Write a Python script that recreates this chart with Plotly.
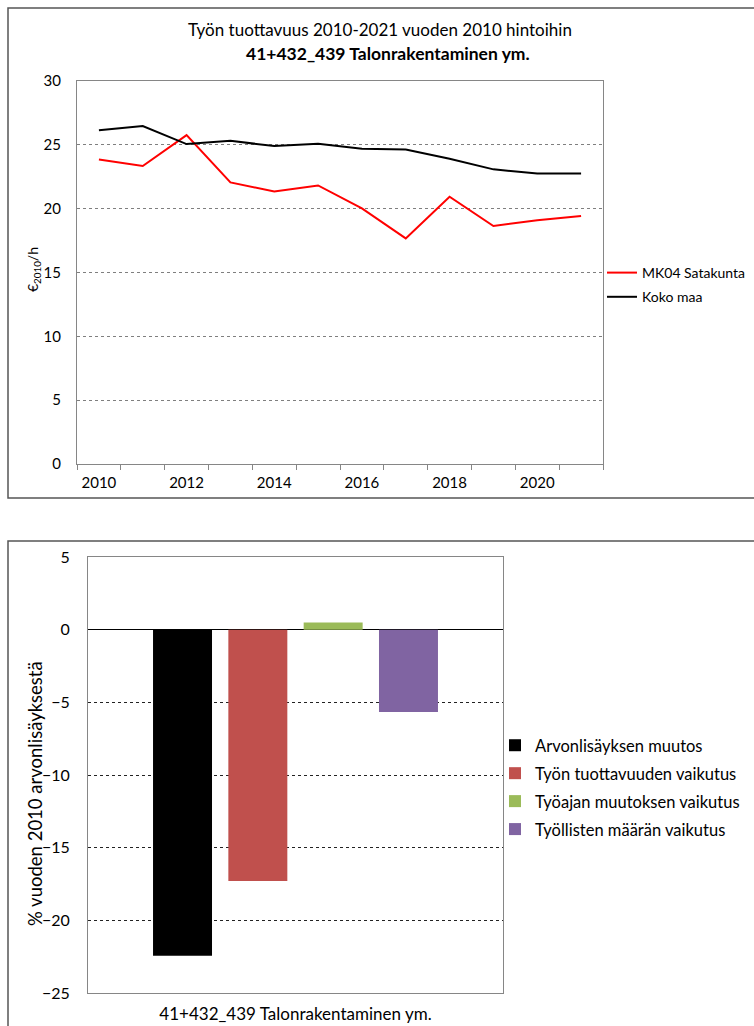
import plotly.graph_objects as go

W, H = 754, 1026

# ---- Data: top chart ----
years = list(range(2010, 2022))
satakunta = [23.86, 23.34, 25.76, 22.06, 21.35, 21.82, 20.02, 17.67, 20.93, 18.64, 19.10, 19.42]
koko_maa = [26.15, 26.47, 25.06, 25.32, 24.90, 25.08, 24.69, 24.64, 23.91, 23.08, 22.76, 22.76]
top_tick_years = [2010, 2012, 2014, 2016, 2018, 2020]

# ---- Data: bottom chart ----
category = "41+432_439 Talonrakentaminen ym."
bar_names = ["Arvonlisäyksen muutos", "Työn tuottavuuden vaikutus",
             "Työajan muutoksen vaikutus", "Työllisten määrän vaikutus"]
bar_values = [-22.43, -17.29, 0.50, -5.67]
bar_colors = ["#000000", "#C0504D", "#9BBB59", "#8064A2"]

title_line1 = "Työn tuottavuus 2010-2021 vuoden 2010 hintoihin"
title_line2 = "41+432_439 Talonrakentaminen ym."
top_ytitle = "€<sub>2010</sub>/h"
bottom_ytitle = "% vuoden 2010 arvonlisäyksestä"

FONT = "Lato"

def px_x(p):
    return p / W

def px_y(p):
    return 1 - p / H

fig = go.Figure()

fig.add_trace(go.Scatter(x=years, y=satakunta, mode="lines", name="MK04 Satakunta",
                         line=dict(color="#FF0000", width=2), xaxis="x", yaxis="y",
                         legend="legend", legendgroup="a"))
fig.add_trace(go.Scatter(x=years, y=koko_maa, mode="lines", name="Koko maa",
                         line=dict(color="#000000", width=2), xaxis="x", yaxis="y",
                         legend="legend", legendgroup="b"))

for i, (n, v, c) in enumerate(zip(bar_names, bar_values, bar_colors)):
    fig.add_trace(go.Bar(x=[category], y=[v], name=n, marker=dict(color=c, line=dict(width=0)),
                         xaxis="x2", yaxis="y2", legend="legend2", legendgroup="g%d" % i))

axis_line = "#868686"

fig.update_layout(
    width=W, height=H,
    margin=dict(l=0, r=0, t=0, b=0, autoexpand=False),
    paper_bgcolor="white", plot_bgcolor="white",
    font=dict(family=FONT, color="#000000", size=15),
    showlegend=True,
    barmode="group", bargap=0.274, bargroupgap=0.217,
    xaxis=dict(domain=[px_x(77), px_x(603)], anchor="y", range=[2009.5, 2021.5], automargin=False,
               tickvals=top_tick_years, ticktext=[str(y) for y in top_tick_years],
               ticks="", showgrid=False, zeroline=False,
               showline=True, linecolor=axis_line, linewidth=1, mirror=True,
               tickfont=dict(size=15), ticklabelstandoff=5,
               minor=dict(tick0=2009.5, dtick=1, ticks="outside", ticklen=5,
                          tickcolor=axis_line, showgrid=False)),
    yaxis=dict(domain=[px_y(464), px_y(81)], anchor="x", range=[0, 30], dtick=5, automargin=False,
               showgrid=True, gridcolor="#7f7f7f", griddash="dot", gridwidth=1,
               zeroline=False, showline=True, linecolor=axis_line, linewidth=1, mirror=True,
               ticks="", tickfont=dict(size=15), ticklabelstandoff=12),
    xaxis2=dict(domain=[px_x(88), px_x(503)], anchor="y2", automargin=False,
                ticks="", showgrid=False, zeroline=False,
                showline=True, linecolor=axis_line, linewidth=1, mirror=True,
                tickfont=dict(size=17), ticklabelstandoff=6),
    yaxis2=dict(domain=[px_y(993), px_y(557)], anchor="x2", range=[-25, 5], dtick=5, automargin=False,
                showgrid=True, gridcolor="#222222", griddash="3px,3px", gridwidth=1,
                zeroline=True, zerolinecolor="#000000", zerolinewidth=1,
                showline=True, linecolor=axis_line, linewidth=1, mirror=True,
                ticks="", tickfont=dict(size=16), ticklabelstandoff=14),
    legend=dict(x=px_x(602), xanchor="left", y=px_y(257), yanchor="top",
                traceorder="grouped", tracegroupgap=3, itemwidth=30,
                font=dict(size=14), bgcolor="rgba(0,0,0,0)"),
    legend2=dict(x=px_x(495), xanchor="left", y=px_y(728), yanchor="top",
                 traceorder="grouped", tracegroupgap=3.5, itemwidth=30,
                 font=dict(size=16.5), bgcolor="rgba(0,0,0,0)"),
    annotations=[
        dict(text=title_line1, xref="paper", yref="paper", x=px_x(380), y=px_y(30),
             xanchor="center", yanchor="middle", showarrow=False,
             font=dict(family=FONT, size=17, color="#000000")),
        dict(text="<b>" + title_line2 + "</b>", xref="paper", yref="paper", x=px_x(388), y=px_y(53),
             xanchor="center", yanchor="middle", showarrow=False,
             font=dict(family=FONT, size=17.5, color="#000000")),
        dict(text=top_ytitle, xref="paper", yref="paper", x=px_x(34), y=px_y(270),
             xanchor="center", yanchor="middle", showarrow=False, textangle=-90,
             font=dict(family=FONT, size=14, color="#000000")),
        dict(text=bottom_ytitle, xref="paper", yref="paper", x=px_x(35), y=px_y(794),
             xanchor="center", yanchor="middle", showarrow=False, textangle=-90,
             font=dict(family=FONT, size=18.5, color="#000000")),
    ],
    shapes=[
        dict(type="rect", xref="paper", yref="paper",
             x0=px_x(8), x1=px_x(770), y0=px_y(498), y1=px_y(8),
             line=dict(color="#555555", width=1.5), fillcolor="rgba(0,0,0,0)", layer="below"),
        dict(type="rect", xref="paper", yref="paper",
             x0=px_x(8), x1=px_x(770), y0=px_y(1040), y1=px_y(541),
             line=dict(color="#555555", width=1.5), fillcolor="rgba(0,0,0,0)", layer="below"),
    ],
)

fig.write_html("out.html")
